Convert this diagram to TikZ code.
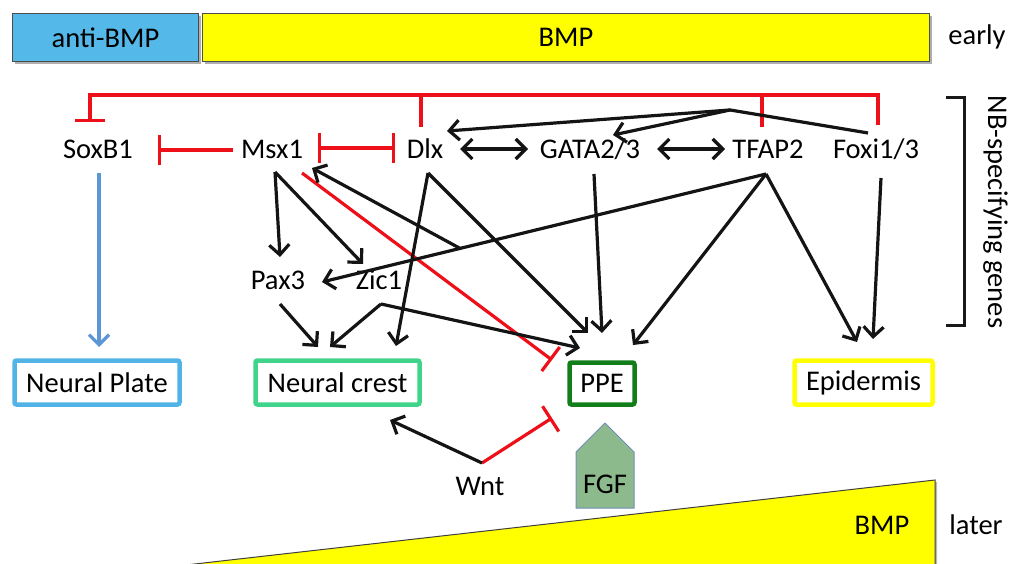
\documentclass[tikz,border=0pt]{standalone}
\usepackage{fontspec}
\setmainfont{Carlito}
\usetikzlibrary{arrows.meta,shadows,calc}

\definecolor{antiblue}{RGB}{84,184,232}
\definecolor{bmpyellow}{RGB}{255,255,0}
\definecolor{inhred}{RGB}{238,16,24}
\definecolor{plateblue}{RGB}{82,180,230}
\definecolor{crestgreen}{RGB}{64,212,138}
\definecolor{ppegreen}{RGB}{18,126,26}
\definecolor{fgffill}{RGB}{141,186,141}
\definecolor{fgfedge}{RGB}{112,142,184}
\definecolor{soxarrow}{RGB}{92,150,214}

\tikzset{
  lbl/.style={inner sep=0pt, outer sep=0pt, font=\fontsize{28.5}{33}\selectfont},
  gene/.style={lbl, anchor=base},
  barbox/.style={lbl, draw=black!70, line width=1pt, minimum height=48pt,
    drop shadow={shadow xshift=2.5pt, shadow yshift=-2.5pt, opacity=0.45, fill=black!70}},
  fate/.style={lbl, line width=4.5pt, rounded corners=2pt, minimum height=44pt},
  tip/.style={Straight Barb[length=10pt,width=20pt]},
  act/.style={line width=3.2pt, draw=black!92, -{Straight Barb[length=10pt,width=20pt]}},
  dact/.style={line width=3.2pt, draw=black!92, {Straight Barb[length=10pt,width=20pt]}-{Straight Barb[length=10pt,width=20pt]}},
  inh/.style={line width=3.2pt, draw=inhred},
  inhbar/.style={inh, -{Bar[width=30pt]}},
}

\begin{document}
\begin{tikzpicture}[x=1pt,y=-1pt]
\useasboundingbox (0,0) rectangle (1015,564);

% ---- early BMP field ----
\node[barbox, fill=antiblue, minimum width=186pt] (anti) at (105.5,37.5) {anti-BMP};
\node[barbox, fill=bmpyellow, minimum width=727pt] (bmpE) at (566,37.5) {BMP};
\node[gene] (early) at (977,45) {early};

% ---- later BMP gradient ----
\fill[black!55, opacity=0.5] (179,568) -- (937,482) -- (937,568) -- cycle;
\filldraw[fill=bmpyellow, draw=black!75, line width=1pt] (177,566) -- (935,480) -- (935,566) -- cycle;
\node[gene] (bmpL) at (882,534) {BMP};
\node[gene] (later) at (976,534) {later};

% ---- NB-specifying genes ----
\node[gene] (sox)  at (98,158.5)  {SoxB1};
\node[gene] (msx)  at (272,158.5) {Msx1};
\node[gene] (dlx)  at (425,158.5) {Dlx};
\node[gene] (gata) at (590,158.5) {GATA2/3};
\node[gene] (tfap) at (768,158.5) {TFAP2};
\node[gene] (foxi) at (876,158.5) {Foxi1/3};
\node[gene] (pax)  at (278,290)   {Pax3};
\node[gene] (zic)  at (379,290)   {Zic1};

% bracket and its label
\draw[line width=3pt, draw=black!90] (946,98) -- (964,98) -- (964,325) -- (946,325);
\node[gene, rotate=-90] (nbs) at (988,212) {NB-specifying genes};

% ---- fates ----
\node[fate, draw=plateblue, minimum width=165pt] (np)  at (97,382.5)    {Neural Plate};
\node[fate, draw=crestgreen, minimum width=164pt] (nc) at (337.5,382.5) {Neural crest};
\node[fate, draw=ppegreen, minimum width=65pt, minimum height=42pt] (ppe) at (602,383.5) {PPE};
\node[fate, draw=bmpyellow, minimum width=138pt] (epi) at (863.5,382.5) {Epidermis};

% ---- signals ----
\node[gene] (wnt) at (480,495) {Wnt};
\filldraw[fill=fgffill, draw=fgfedge, line width=1pt]
  (576,508) -- (576,452) -- (605,423) -- (634,452) -- (634,508) -- cycle;
\node[gene] (fgf) at (605,493) {FGF};

% ---- connector ports ----
\coordinate (rail)   at (0,95);
\coordinate (soxT)   at (90,122);
\coordinate (dlxR)   at (421,127);
\coordinate (tfapR)  at (762,127);
\coordinate (foxiR)  at (878,125);
\coordinate (msxL)   at (233,150);
\coordinate (soxR)   at (158,150);
\coordinate (msxR)   at (318,148);
\coordinate (dlxL)   at (395,148);
\coordinate (msxD)   at (302,173);
\coordinate (ppeI1)  at (552,360);
\coordinate (wntA)   at (482,463);
\coordinate (ppeI2)  at (552,418);
\coordinate (ncW)    at (390,420);

\coordinate (dlxE)   at (460,149);
\coordinate (gataW)  at (528,149);
\coordinate (gataE)  at (657,149);
\coordinate (tfapW)  at (725,149);
\coordinate (foxiNW) at (868,133);
\coordinate (hub)    at (730,110);
\coordinate (dlxNE)  at (447,131);
\coordinate (gataN)  at (613,135);

\coordinate (soxB)   at (99,173);
\coordinate (npN)    at (99,347);
\coordinate (msxB)   at (275,172);
\coordinate (paxN)   at (280,257);
\coordinate (zicN)   at (363,264);
\coordinate (tfapB)  at (766,174);
\coordinate (paxE)   at (322,282);
\coordinate (branch) at ($(tfapB)!0.689!(paxE)$);
\coordinate (msxSE)  at (312,168);
\coordinate (dlxB)   at (428,173);
\coordinate (ncN3)   at (396,346);
\coordinate (ppeN1)  at (588,333);
\coordinate (gataB)  at (594,174);
\coordinate (ppeN2)  at (602,333);
\coordinate (ppeN3)  at (633,345);
\coordinate (ppeN0)  at (580,348);
\coordinate (epiN1)  at (857,342);
\coordinate (foxiB)  at (881,178);
\coordinate (epiN2)  at (873,339);
\coordinate (paxB)   at (280,304);
\coordinate (ncN1)   at (318,347);
\coordinate (zicB)   at (381,304);
\coordinate (ncN2)   at (330,347);

% ---- repression ----
\draw[inhbar] (foxiR) -- (foxiR |- rail) -| (soxT);
\draw[inh] (dlxR) -- (dlxR |- rail);
\draw[inh] (tfapR) -- (tfapR |- rail);
\draw[inhbar] (msxL) -- (soxR);
\draw[inh, {Bar[width=30pt]}-{Bar[width=30pt]}] (msxR) -- (dlxL);
\draw[inhbar] (msxD) -- (ppeI1);
\draw[inhbar] (wntA) -- (ppeI2);

% ---- activation ----
\draw[dact] (dlxE) -- (gataW);
\draw[dact] (gataE) -- (tfapW);
\draw[act, line join=round] (foxiNW) -- (hub) -- (dlxNE);
\draw[act] (hub) -- (gataN);
\draw[act, draw=soxarrow] (soxB) -- (npN);
\draw[act] (msxB) -- (paxN);
\draw[act] (msxB) -- (zicN);
\draw[act] (tfapB) -- (paxE);
\draw[act] (branch) -- (msxSE);
\draw[act] (dlxB) -- (ncN3);
\draw[act] (dlxB) -- (ppeN1);
\draw[act] (gataB) -- (ppeN2);
\draw[act] (tfapB) -- (ppeN3);
\draw[act] (tfapB) -- (epiN1);
\draw[act] (foxiB) -- (epiN2);
\draw[act] (paxB) -- (ncN1);
\draw[act] (zicB) -- (ncN2);
\draw[act] (zicB) -- (ppeN0);
\draw[act] (wntA) -- (ncW);
\end{tikzpicture}
\end{document}
